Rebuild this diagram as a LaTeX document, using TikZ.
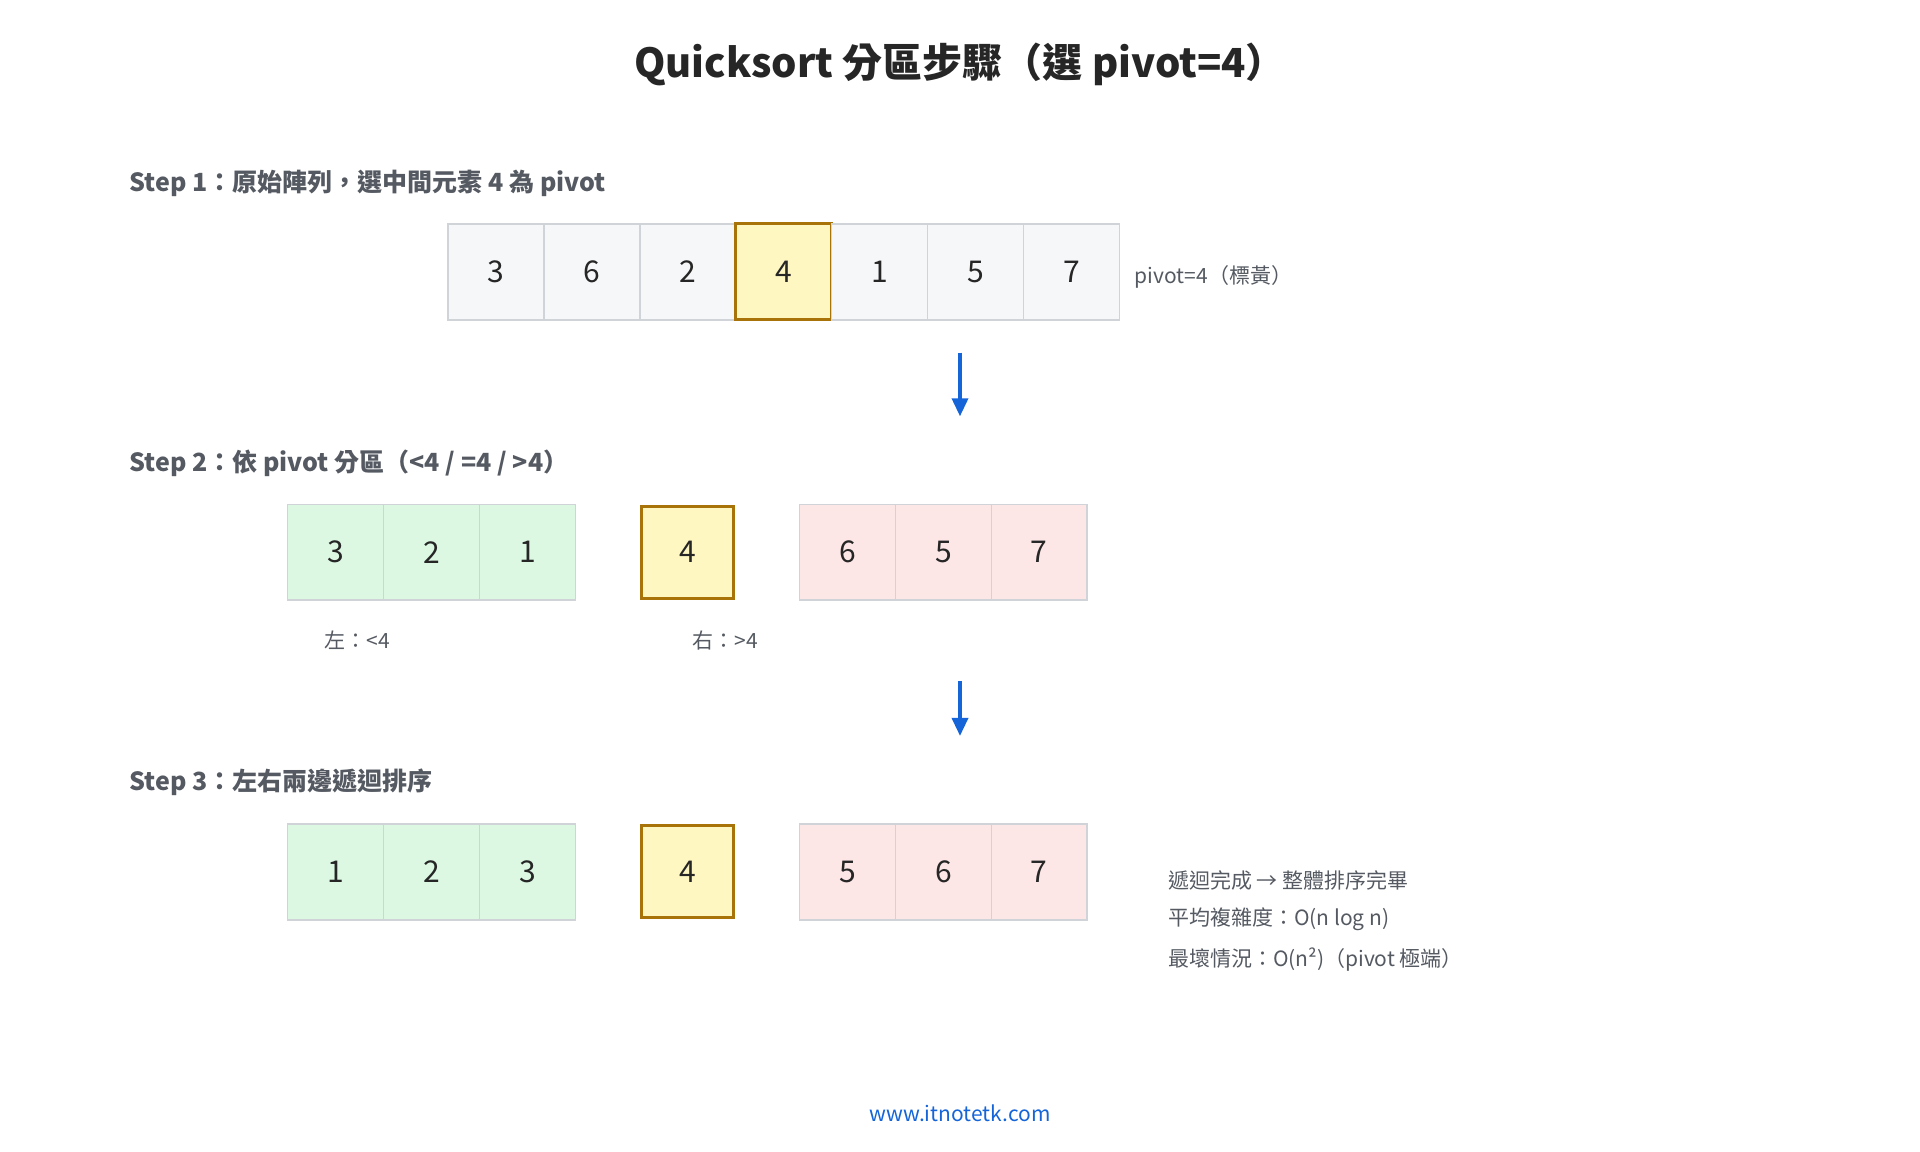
\documentclass[tikz,border=0pt]{standalone}
\usepackage{fontspec}
\setmainfont{Noto Sans CJK TC}
\usetikzlibrary{arrows.meta}
\definecolor{txtgray}{HTML}{555A62}
\definecolor{cellgray}{HTML}{F6F7F9}
\definecolor{cellline}{HTML}{D0D3D8}
\definecolor{pivfill}{HTML}{FFF7C2}
\definecolor{pivline}{HTML}{A8740A}
\definecolor{lowfill}{HTML}{DCF8E3}
\definecolor{highfill}{HTML}{FDE6E6}
\definecolor{arrblue}{HTML}{1565D8}
\tikzset{
  cell/.style={draw=cellline, line width=1.5pt, minimum size=95.9pt, inner sep=0pt, font=\fontsize{30}{32}\selectfont, text=black!85},
  plain/.style={cell, fill=cellgray},
  piv/.style={cell, fill=pivfill, draw=pivline, line width=3pt},
  low/.style={cell, fill=lowfill},
  high/.style={cell, fill=highfill},
  steplabel/.style={anchor=west, font=\bfseries\fontsize{25}{28}\selectfont, text=txtgray},
  note/.style={anchor=west, font=\fontsize{21}{24}\selectfont, text=txtgray},
  flow/.style={draw=arrblue, line width=3.5pt, -{Triangle[length=18pt,width=16pt]}}
}
\begin{document}
\begin{tikzpicture}[x=1.2245pt,y=-1.2245pt]
\useasboundingbox (0,0) rectangle (1568,940.8);
% title
\node[text=black!85] (title) at (784,53) {\bfseries\fontsize{40}{44}\selectfont Quicksort 分區步驟（選 pivot=4）};
% step 1
\node[steplabel] (s1) at (103,150) {Step 1：原始陣列，選中間元素 4 為 pivot};
\foreach \v [count=\i] in {3,6,2,4,1,5,7} {
  \ifnum\i=4 \def\sty{piv}\else\def\sty{plain}\fi
  \node[\sty] (a\i) at ({366+39.15+78.3*(\i-1)},222) {\v};
}
\node[note] (pnote) at (924,226) {pivot=4（標黃）};
\coordinate (arr1s) at (784,288);
\coordinate (arr1e) at (784,340);
\draw[flow] (arr1s) -- (arr1e);
% step 2
\node[steplabel] (s2) at (103,378) {Step 2：依 pivot 分區（<4 / =4 / >4）};
\foreach \v [count=\i] in {3,2,1} \node[low] (b\i) at ({235+39.15+78.3*(\i-1)},451) {\v};
\node[piv, minimum size=92pt] (bp) at (561.5,451) {4};
\foreach \v [count=\i] in {6,5,7} \node[high] (c\i) at ({653+39.15+78.3*(\i-1)},451) {\v};
\node[note] (lnote) at (262,523) {左：<4};
\node[note] (rnote) at (563,523) {右：>4};
\coordinate (arr2s) at (784,556);
\coordinate (arr2e) at (784,601);
\draw[flow] (arr2s) -- (arr2e);
% step 3
\node[steplabel] (s3) at (103,639) {Step 3：左右兩邊遞迴排序};
\foreach \v [count=\i] in {1,2,3} \node[low] (d\i) at ({235+39.15+78.3*(\i-1)},712) {\v};
\node[piv, minimum size=92pt] (dp) at (561.5,712) {4};
\foreach \v [count=\i] in {5,6,7} \node[high] (e\i) at ({653+39.15+78.3*(\i-1)},712) {\v};
\node[note] (n1) at (951,719) {遞迴完成 → 整體排序完畢};
\node[note] (n2) at (951,751) {平均複雜度：O(n log n)};
\node[note] (n3) at (951,784) {最壞情況：O(n²)（pivot 極端）};
% footer
\node[font=\fontsize{21}{24}\selectfont, text=arrblue] (foot) at (784,909) {www.itnotetk.com};
\end{tikzpicture}
\end{document}
